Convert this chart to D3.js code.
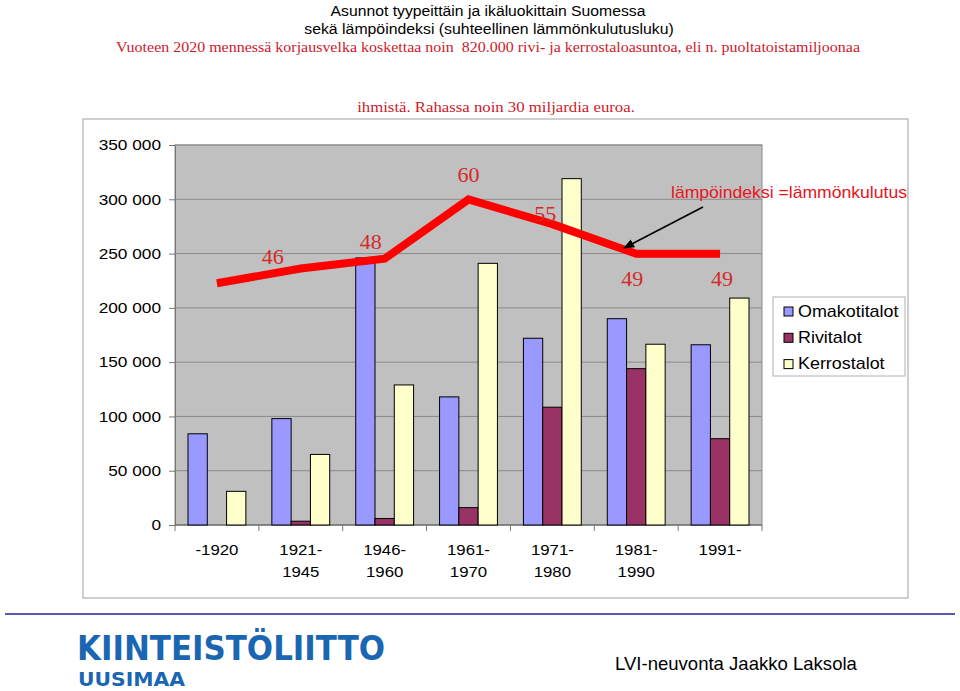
<!DOCTYPE html>
<html><head><meta charset="utf-8">
<script src="https://cdn.jsdelivr.net/npm/d3@7/dist/d3.min.js"></script>
<style>body{margin:0;background:#fff}svg{display:block}</style>
</head><body>
<script>
const categories = [["-1920"],["1921-","1945"],["1946-","1960"],["1961-","1970"],["1971-","1980"],["1981-","1990"],["1991-"]];
const omakotitalot = [84000, 98000, 246000, 118000, 172000, 190000, 166000];
const rivitalot    = [0, 3500, 6000, 16000, 108500, 144000, 79500];
const kerrostalot  = [31000, 65000, 129000, 241000, 319000, 166500, 209000];
const lampoindeksi = [43, 46, 48, 60, 55, 49, 49];
const indexLabels  = [null, "46", "48", "60", "55", "49", "49"];
const yTicks = [0, 50000, 100000, 150000, 200000, 250000, 300000, 350000];
const seriesNames = ["Omakotitalot", "Rivitalot", "Kerrostalot"];
const seriesColors = ["#9999ff", "#993366", "#ffffcc"];

const W = 960, H = 691;
const svg = d3.select("body").append("svg").attr("width", W).attr("height", H);
const sans = "'Liberation Sans', Arial, sans-serif";
const serif = "'Liberation Serif', 'Times New Roman', serif";

function txt(parent, x, y, s, o = {}) {
  const size = o.size || 15, k0 = o.k || 1.12;
  const t = parent.append("text").attr("text-anchor", o.anchor || "start").attr("fill", o.fill || "#000")
    .style("font-family", o.family || sans).style("font-size", size + "px").text(s);
  if (o.weight) t.style("font-weight", o.weight);
  const k = o.width ? o.width / t.node().getComputedTextLength() : k0;
  t.attr("transform", `translate(${x},${y}) scale(${k},1)`);
  return t;
}

// titles
txt(svg, 488, 15.5, "Asunnot tyypeittäin ja ikäluokittain Suomessa", {anchor:"middle", size:14.5, width:315});
txt(svg, 489, 33.5, "sekä lämpöindeksi (suhteellinen lämmönkulutusluku)", {anchor:"middle", size:14.5, width:370});
txt(svg, 488, 51.5, "Vuoteen 2020 mennessä korjausvelka koskettaa noin\u00a0 820.000 rivi- ja kerrostaloasuntoa, eli n. puoltatoistamiljoonaa",
  {anchor:"middle", size:15, width:744, family:serif, fill:"#cc1a2a"});
txt(svg, 496, 111.5, "ihmistä. Rahassa noin 30 miljardia euroa.", {anchor:"middle", size:15, width:278, family:serif, fill:"#cc1a2a"});

// chart frame
const frame = {x0: 83, y0: 119, x1: 908, y1: 598};
svg.append("rect").attr("x", frame.x0).attr("y", frame.y0).attr("width", frame.x1-frame.x0).attr("height", frame.y1-frame.y0)
  .attr("fill","#fff").attr("stroke","#b0b0b0").attr("stroke-width",1.2);
svg.append("clipPath").attr("id","frameclip").append("rect")
  .attr("x", frame.x0).attr("y", frame.y0).attr("width", frame.x1-frame.x0).attr("height", frame.y1-frame.y0);

const plot = {x0: 175, x1: 762, y0: 145, y1: 525};
const x = d3.scaleBand().domain(d3.range(categories.length)).range([plot.x0, plot.x1]).paddingInner(0.31).paddingOuter(0.155);
const xs = d3.scaleBand().domain([0,1,2]).range([0, x.bandwidth()]);
const y = d3.scaleLinear().domain([0, 350000]).range([plot.y1, plot.y0]);
const y2 = d3.scaleLinear().domain([40, 65]).range([y(209000), y(322500)]);
const xc = i => x(i) + x.bandwidth()/2;

svg.append("rect").attr("x", plot.x0).attr("y", plot.y0).attr("width", plot.x1-plot.x0).attr("height", plot.y1-plot.y0)
  .attr("fill","#c0c0c0");
svg.append("g").selectAll("line").data(yTicks.slice(1)).join("line")
  .attr("x1", plot.x0).attr("x2", plot.x1).attr("y1", d=>y(d)).attr("y2", d=>y(d))
  .attr("stroke","#8a8a8a").attr("stroke-width",1);
svg.append("rect").attr("x", plot.x0).attr("y", plot.y0).attr("width", plot.x1-plot.x0).attr("height", plot.y1-plot.y0)
  .attr("fill","none").attr("stroke","#8a8a8a");

// y axis
const yAxis = d3.axisLeft(y).tickValues(yTicks).tickSize(6).tickPadding(9)
  .tickFormat(d => d3.format(",")(d).replace(/,/g, " "));
const gy = svg.append("g").attr("transform", `translate(${plot.x0},0)`).call(yAxis);
gy.select(".domain").attr("stroke","#777");
gy.selectAll(".tick line").attr("stroke","#777");
gy.selectAll("text").style("font-family", sans).style("font-size","15px").attr("fill","#000")
  .attr("x", null).attr("transform", "translate(-14,0) scale(1.15,1)");

// x axis
svg.append("line").attr("x1", plot.x0).attr("x2", plot.x1).attr("y1", plot.y1).attr("y2", plot.y1).attr("stroke","#555");
svg.append("g").selectAll("line").data(d3.range(categories.length+1)).join("line")
  .attr("x1", i => plot.x0 + i*(plot.x1-plot.x0)/categories.length)
  .attr("x2", i => plot.x0 + i*(plot.x1-plot.x0)/categories.length)
  .attr("y1", plot.y1).attr("y2", plot.y1+6).attr("stroke","#777");
const gx = svg.append("g");
categories.forEach((lines, i) => lines.forEach((s, k) =>
  txt(gx, xc(i), 555 + k*21.7, s, {anchor:"middle", size:15, k:1.12})));

// bars
const series = [omakotitalot, rivitalot, kerrostalot];
series.forEach((vals, s) => {
  svg.append("g").selectAll("rect").data(vals.map((v,i)=>({v,i})).filter(d => d.v > 0)).join("rect")
    .attr("x", d=> x(d.i) + xs(s)).attr("width", xs.bandwidth())
    .attr("y", d=>y(d.v)).attr("height", d=>y(0)-y(d.v))
    .attr("fill", seriesColors[s]).attr("stroke","#000").attr("stroke-width",1);
});

// line
const line = d3.line().x((d,i)=>xc(i)).y(d=>y2(d));
svg.append("path").datum(lampoindeksi).attr("d", line).attr("fill","none")
  .attr("stroke","#ff0000").attr("stroke-width",8).attr("stroke-linejoin","miter");

// labels
const labelShift = [[0,0],[-28,-12],[-14,-17],[0,-25],[-7,-10],[-4,25],[2,25]];
const gl = svg.append("g");
lampoindeksi.forEach((v,i) => {
  if (!indexLabels[i]) return;
  txt(gl, xc(i) + labelShift[i][0], y2(v) + labelShift[i][1] + 7, indexLabels[i],
    {anchor:"middle", size:21, k:1.05, family:serif, fill:"#d42a2a"});
});

// annotation
const ga = svg.append("g").attr("clip-path","url(#frameclip)");
txt(ga, 671, 198, "lämpöindeksi =lämmönkulutusluku", {size:16, k:1.1, fill:"#e8141c"});
svg.append("defs").append("marker").attr("id","arr").attr("viewBox","0 0 10 10").attr("refX",9).attr("refY",5)
  .attr("markerWidth",7).attr("markerHeight",7).attr("orient","auto")
  .append("path").attr("d","M0,1 L10,5 L0,9 z").attr("fill","#000");
svg.append("line").attr("x1",703).attr("y1",207).attr("x2",624).attr("y2",248)
  .attr("stroke","#000").attr("stroke-width",1.6).attr("marker-end","url(#arr)");

// legend
const lg = svg.append("g");
lg.append("rect").attr("x",773).attr("y",297).attr("width",132).attr("height",79).attr("fill","#fff").attr("stroke","#b0b0b0");
seriesNames.forEach((n,i)=>{
  const by = 316.5 + i*26.3;
  lg.append("rect").attr("x",784).attr("y",by-9.5).attr("width",9).attr("height",9)
    .attr("fill",seriesColors[i]).attr("stroke","#000");
  txt(lg, 798, by, n, {size:16, k:1.12});
});

// footer
svg.append("line").attr("x1",5).attr("x2",955).attr("y1",614).attr("y2",614).attr("stroke","#5a5ab0").attr("stroke-width",2);
svg.append("text").attr("x",77).attr("y",659.5).attr("fill","#1a66b3")
  .style("font-family","'DejaVu Sans', sans-serif").style("font-weight","bold").style("font-size","33px")
  .attr("textLength",308).attr("lengthAdjust","spacingAndGlyphs").text("KIINTEISTÖLIITTO");
svg.append("text").attr("x",78).attr("y",686).attr("fill","#1a66b3")
  .style("font-family","'DejaVu Sans', sans-serif").style("font-weight","bold").style("font-size","20px")
  .attr("textLength",107).attr("lengthAdjust","spacingAndGlyphs").text("UUSIMAA");
txt(svg, 615, 669.5, "LVI-neuvonta Jaakko Laksola", {size:18.5, width:242});
</script>
</body></html>
